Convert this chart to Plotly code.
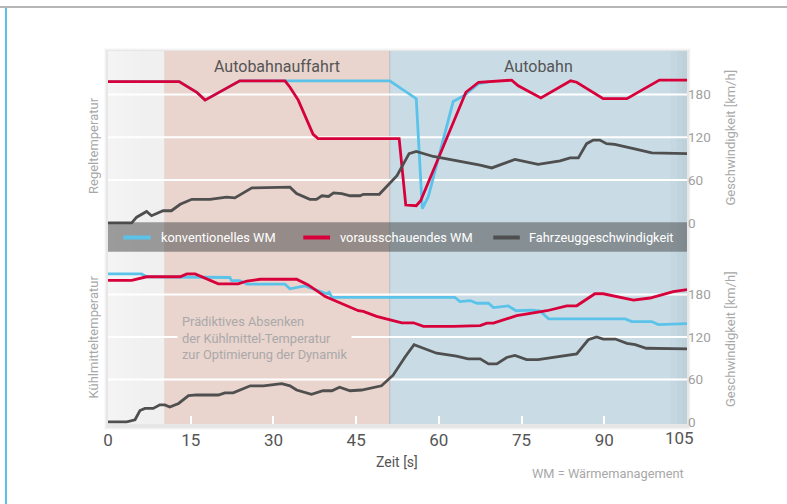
import plotly.graph_objects as go

# ---------------- data ----------------
# time axis ticks
x_ticks = [0, 15, 30, 45, 60, 75, 90, 105]
x_tick_text = ["0", "15", "30", "45", "60", "75", "90", ""]   # "105" placed as annotation
speed_ticks = [0, 60, 120, 180]

# phase regions [s]
region_bounds = [0, 10.2, 51.1, 105]
region_names = ["", "Autobahnauffahrt", "Autobahn"]
region_label_x = [None, 30.6, 78.0]

# --- upper panel: Regeltemperatur (left axis has no scale -> plotted in panel units)
regel_vor_t = [0, 12.9, 16.1, 17.6, 23.9, 32.1, 33.0, 34.5, 37.2, 38.1, 52.8, 54.0,
               55.9, 56.7, 64.9, 67.2, 73.2, 74.4, 78.5, 83.9, 85.0, 89.8, 94.1, 100.0, 105]
regel_vor_v = [198, 198, 183, 172, 199, 199, 190, 172, 124, 118, 118, 25,
               24, 31, 183, 197, 200, 192, 175, 199, 197, 174, 174, 200, 200]

regel_konv_t = [0, 12.9, 16.1, 17.6, 23.9, 32.1, 51.1, 55.9, 57.0, 58.1, 62.6, 64.7, 67.2, 69.0]
regel_konv_v = [198, 198, 183, 172, 199, 199, 199, 174, 20, 37, 170, 179, 195, 197.5]

# vehicle speed, upper panel [km/h]
speed_top_t = [0, 4.3, 5.2, 7.0, 7.9, 10.0, 11.5, 13.1, 15.2, 18.5, 21.5, 23.0, 26.1, 33.0,
               34.2, 36.6, 37.8, 38.8, 40.0, 40.9, 42.4, 43.9, 45.7, 46.3, 49.2, 52.4, 54.6,
               55.9, 59.0, 64.4, 67.5, 69.6, 73.8, 78.0, 82.0, 83.8, 85.3, 86.8, 88.0, 89.2,
               90.4, 91.9, 94.4, 95.9, 98.6, 105]
speed_top_v = [0, 0, 8, 16, 10, 17, 17, 26, 33, 33, 36, 35, 49, 50,
               41, 33, 33, 38, 37, 42, 41, 38, 38, 40, 40, 66, 97,
               100, 93, 86, 81, 77, 89, 82, 87, 91, 91, 111, 116, 116,
               111, 110, 105, 103, 98, 97]

# --- lower panel: Kühlmitteltemperatur (left axis has no scale -> panel units)
kuehl_vor_t = [0, 4.3, 7.0, 13.1, 14.3, 15.8, 20.0, 23.6, 25.2, 27.6, 34.2, 36.3, 39.4, 42.1,
               45.4, 46.3, 48.7, 51.7, 53.3, 55.4, 57.2, 62.6, 67.5, 68.7, 69.9, 74.1, 79.6,
               83.2, 85.0, 88.3, 89.8, 95.3, 98.3, 102.5, 105]
kuehl_vor_v = [200, 200, 205, 205, 209, 209, 195, 195, 199, 201.5, 201.5, 193.5, 177, 167.6,
               157, 156, 149, 143, 140, 140, 135, 135, 136, 139.5, 139.5, 150, 157,
               164, 164, 181, 181, 172, 175, 184, 187]

kuehl_konv_t = [0, 6.1, 7.0, 13.1, 22.1, 22.4, 23.9, 25.2, 32.1, 33.0, 35.7, 39.7, 40.1, 40.6,
                62.9, 63.8, 65.7, 66.9, 69.0, 69.9, 72.6, 74.0, 76.8, 78.3, 79.9, 93.8, 95.0,
                98.6, 99.8, 105]
kuehl_konv_v = [209, 209, 205, 205, 204, 199.6, 199.6, 194.5, 194.5, 188, 192, 181, 183, 176,
                176, 170, 171.4, 167.6, 167.6, 161.4, 163.8, 157, 158, 157, 145.5, 145.5, 141.7,
                141.7, 137.4, 138.8]

# vehicle speed, lower panel [km/h]
speed_bot_t = [0, 3.4, 4.9, 5.8, 6.7, 8.2, 9.4, 10.3, 11.2, 12.8, 14.6, 16.1, 20.0, 21.2, 22.7,
               25.8, 28.2, 29.7, 31.5, 33.0, 34.2, 36.9, 39.0, 40.6, 42.0, 43.9, 46.0, 49.6,
               51.7, 53.9, 55.5, 57.2, 59.6, 63.2, 65.3, 67.5, 69.0, 70.5, 72.3, 73.8, 75.9,
               78.0, 82.0, 85.0, 87.1, 88.6, 89.8, 92.0, 94.1, 95.6, 97.6, 102.5, 105]
speed_bot_v = [0, 0, 3, 16, 19, 19, 24, 24, 21, 26, 37, 38, 38, 41, 41,
               51, 51, 52, 54, 51, 45, 39, 44, 44, 49, 44, 45, 51,
               66, 92, 109, 104, 97, 93, 89, 89, 82, 82, 91, 94, 88,
               88, 93, 96, 116, 120, 117, 117, 111, 109, 104, 104, 103]

legend_names = ["konventionelles WM", "vorausschauendes WM", "Fahrzeuggeschwindigkeit"]

# ---------------- style ----------------
C_BLUE = "#5bc3ea"
C_RED = "#d7003a"
C_GRAY = "#4f4f4f"
FONT = "Roboto"
C_LABEL = "#a8a8a8"

W, H = 787, 504
ML, MR, MT, MB = 108, 100, 51, 80
PW, PH = W - ML - MR, H - MT - MB


def px_x(p):
    return (p - ML) / PW


def px_y(p):
    return (H - MB - p) / PH


top_dom = [px_y(252), 1.0]
bot_dom = [0.0, px_y(252)]

fig = go.Figure()


def add_line(t, v, color, yaxis, width=2.8):
    fig.add_trace(go.Scatter(x=t, y=v, mode="lines", yaxis=yaxis, showlegend=False,
                             line=dict(color=color, width=width), hoverinfo="skip"))


add_line(regel_konv_t, regel_konv_v, C_BLUE, "y")
add_line(regel_vor_t, regel_vor_v, C_RED, "y")
add_line(speed_top_t, speed_top_v, C_GRAY, "y")
add_line(kuehl_konv_t, kuehl_konv_v, C_BLUE, "y2")
add_line(kuehl_vor_t, kuehl_vor_v, C_RED, "y2")
add_line(speed_bot_t, speed_bot_v, C_GRAY, "y2")

shapes = []
# soft shadow around plot area
for i, a in enumerate([0.02, 0.03, 0.045]):
    d = 4 - i
    shapes.append(dict(type="rect", xref="paper", yref="paper", layer="below",
                       x0=px_x(ML - d), x1=px_x(ML + PW + d),
                       y0=px_y(MT + PH + d + 2), y1=px_y(MT - d + 1),
                       line=dict(width=0), fillcolor=f"rgba(0,0,0,{a})"))
# phase backgrounds
region_colors = ["#f0f0f0", "#e9d4ce", "#c9dce6"]
for i, col in enumerate(region_colors):
    shapes.append(dict(type="rect", xref="x", yref="paper", layer="below",
                       x0=region_bounds[i], x1=region_bounds[i + 1], y0=0, y1=1,
                       line=dict(width=0), fillcolor=col))
# light gradient at left of grey zone, darker edge at right of blue zone
for x1 in [1.5, 3.0, 4.5, 6.0]:
    shapes.append(dict(type="rect", xref="x", yref="paper", layer="below", x0=0, x1=x1, y0=0, y1=1,
                       line=dict(width=0), fillcolor="rgba(255,255,255,0.12)"))
for x0 in [102.0, 103.2, 104.2]:
    shapes.append(dict(type="rect", xref="x", yref="paper", layer="below", x0=x0, x1=105, y0=0, y1=1,
                       line=dict(width=0), fillcolor="rgba(60,80,95,0.025)"))
shapes.append(dict(type="line", xref="x", yref="paper", layer="below",
                   x0=region_bounds[2], x1=region_bounds[2], y0=0, y1=1,
                   line=dict(color="rgba(120,120,120,0.3)", width=1)))
# white grid lines in both panels
for yref in ["y", "y2"]:
    for v in speed_ticks[1:]:
        shapes.append(dict(type="line", xref="paper", yref=yref, layer="below",
                           x0=0, x1=1, y0=v, y1=v, line=dict(color="white", width=2)))
# legend bar
shapes.append(dict(type="rect", xref="paper", yref="paper", layer="above",
                   x0=0, x1=1, y0=px_y(251.7), y1=px_y(222.3),
                   line=dict(width=0), fillcolor="rgba(72,72,72,0.52)"))
leg_colors = [C_BLUE, C_RED, C_GRAY]
leg_x = [(123.3, 150.7, 159.3), (303.3, 330.0, 338.3), (493.3, 519.8, 526.7)]
annotations = []
for (a, b, tx), col, name in zip(leg_x, leg_colors, legend_names):
    shapes.append(dict(type="line", xref="paper", yref="paper", layer="above",
                       x0=px_x(a), x1=px_x(b), y0=px_y(237.5), y1=px_y(237.5),
                       line=dict(color=col, width=4)))
    annotations.append(dict(xref="paper", yref="paper", x=px_x(tx), y=px_y(237.5),
                            xanchor="left", yanchor="middle", showarrow=False, text=name,
                            font=dict(family=FONT, size=12.8, color="white")))
# page decorations: top rule and left blue bar
shapes.append(dict(type="line", xref="paper", yref="paper", layer="above",
                   x0=px_x(0), x1=px_x(W), y0=px_y(7), y1=px_y(7),
                   line=dict(color="#9d9d9d", width=1.5)))
shapes.append(dict(type="line", xref="paper", yref="paper", layer="above",
                   x0=px_x(6), x1=px_x(6), y0=px_y(8), y1=px_y(H + 2),
                   line=dict(color=C_BLUE, width=2)))

# region labels
for name, cx in zip(region_names, region_label_x):
    if not name:
        continue
    annotations.append(dict(xref="x", yref="paper", x=cx, y=px_y(66), showarrow=False,
                            text=name, font=dict(family=FONT, size=16, color="#555555"),
                            xanchor="center", yanchor="middle"))


def label(x, y, text, size=13, color=C_LABEL, angle=0, xa="center", ya="middle", **kw):
    d = dict(xref="paper", yref="paper", x=px_x(x), y=px_y(y), text=text, textangle=angle,
             xanchor=xa, yanchor=ya, showarrow=False,
             font=dict(family=FONT, size=size, color=color))
    d.update(kw)
    return d


annotations += [
    label(93, 146, "Regeltemperatur", angle=-90),
    label(93, 337.5, "Kühlmitteltemperatur", angle=-90),
    label(730, 137.5, "Geschwindigkeit [km/h]", angle=-90),
    label(730, 339, "Geschwindigkeit [km/h]", angle=-90),
    label(397, 462, "Zeit [s]", size=14, color="#555555"),
    label(686, 473, "WM = Wärmemanagement", size=12.8, xa="right"),
    label(679, 438, "105", size=17, color="#555555"),
    label(177, 338.3, "Prädiktives Absenken<br>der Kühlmittel-Temperatur<br>zur Optimierung der Dynamik",
          size=12.8, color="#a9a9a9", xa="left", align="left", bgcolor="#e9d4ce", borderpad=4),
]

fig.update_layout(
    width=W, height=H,
    margin=dict(l=ML, r=MR, t=MT, b=MB),
    paper_bgcolor="white", plot_bgcolor="rgba(0,0,0,0)",
    showlegend=False, hovermode=False,
    font=dict(family=FONT),
    xaxis=dict(range=[0, 105], tickvals=x_ticks, ticktext=x_tick_text, ticks="inside", ticklen=8,
               tickwidth=2, tickcolor="white", showgrid=False, zeroline=False, showline=False,
               anchor="y2", ticklabelstandoff=4,
               tickfont=dict(family=FONT, size=17, color="#555555")),
    yaxis=dict(domain=top_dom, range=[-40.8, 240.8], side="right", anchor="x",
               tickvals=speed_ticks, showgrid=False, zeroline=False, showline=False,
               ticks="", tickfont=dict(family=FONT, size=13.5, color="#a0a0a0")),
    yaxis2=dict(domain=bot_dom, range=[-3, 240], side="right", anchor="x",
                tickvals=speed_ticks, showgrid=False, zeroline=False, showline=False,
                ticks="", tickfont=dict(family=FONT, size=13.5, color="#a0a0a0")),
    shapes=shapes,
    annotations=annotations,
)

fig.write_html("out.html", config={"displayModeBar": False, "staticPlot": True},
               post_script="document.body.style.margin='0';document.body.style.overflow='hidden';")
